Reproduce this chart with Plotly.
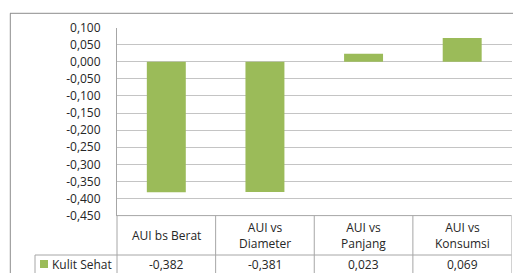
import plotly.graph_objects as go

categories = ["AUI bs Berat", "AUI vs<br>Diameter", "AUI vs<br>Panjang", "AUI vs<br>Konsumsi"]
series_name = "Kulit Sehat"
values = [-0.382, -0.381, 0.023, 0.069]
value_labels = ["-0,382", "-0,381", "0,023", "0,069"]
y_ticks = [0.1, 0.05, 0.0, -0.05, -0.1, -0.15, -0.2, -0.25, -0.3, -0.35, -0.4, -0.45]
y_tick_text = ["0,100", "0,050", "0,000", "-0,050", "-0,100", "-0,150", "-0,200",
               "-0,250", "-0,300", "-0,350", "-0,400", "-0,450"]

W, H = 513, 273
def py(p):
    return 1 - p / H
def px(p):
    return p / W

GRID = "#c4c4c4"
LINE = "#a6a6a6"
TXT = "#262626"
FONT = "Open Sans"
FS = 12

x = list(range(len(values)))
fig = go.Figure()
fig.add_trace(go.Bar(x=x, y=values, marker=dict(color="#9BBB59", line=dict(width=0)),
                     width=0.395, showlegend=False, hoverinfo="skip"))

fig.update_layout(
    width=W, height=H, margin=dict(l=0, r=0, t=0, b=0, autoexpand=False),
    paper_bgcolor="white", plot_bgcolor="white",
    font=dict(family=FONT, size=FS, color=TXT),
    xaxis=dict(domain=[px(117), px(511.5)], range=[-0.5, 3.5], showticklabels=False,
               showgrid=False, zeroline=False, fixedrange=True, automargin=False),
    yaxis=dict(domain=[py(215.6), py(27.5)], range=[-0.45, 0.1], tickvals=y_ticks,
               ticktext=y_tick_text, automargin=False,
               showgrid=True, gridcolor=GRID, gridwidth=1,
               zeroline=True, zerolinecolor=GRID, zerolinewidth=1,
               showline=True, linecolor=LINE, linewidth=1, ticks="",
               tickfont=dict(family=FONT, size=FS, color=TXT), ticklabelstandoff=13),
)

shapes = []
shapes.append(dict(type="line", xref="paper", yref="paper", x0=px(10), x1=1, y0=py(13.3), y1=py(13.3),
                   line=dict(color="#8c8c8c", width=1)))
shapes.append(dict(type="line", xref="paper", yref="paper", x0=px(10.3), x1=px(10.3), y0=py(13.3), y1=0,
                   line=dict(color="#8c8c8c", width=1)))
shapes.append(dict(type="line", xref="paper", yref="paper", x0=px(117), x1=px(117), y0=0, y1=py(215.6),
                   line=dict(color=LINE, width=1)))
for i in range(len(values)):
    shapes.append(dict(type="line", xref="x", yref="paper", x0=i + 0.5, x1=i + 0.5, y0=0, y1=py(215.6),
                       line=dict(color=LINE, width=1)))
shapes.append(dict(type="line", xref="paper", yref="paper", x0=px(35), x1=px(511.5), y0=py(255), y1=py(255),
                   line=dict(color=LINE, width=1)))
shapes.append(dict(type="line", xref="paper", yref="paper", x0=px(35), x1=px(35), y0=0, y1=py(255),
                   line=dict(color=LINE, width=1)))
shapes.append(dict(type="line", xref="paper", yref="paper", x0=px(117), x1=px(511.5), y0=py(215.6), y1=py(215.6),
                   line=dict(color=LINE, width=1)))
shapes.append(dict(type="rect", xref="paper", yref="paper", x0=px(40), x1=px(48), y0=py(268), y1=py(260),
                   fillcolor="#9BBB59", line=dict(width=0)))
fig.update_layout(shapes=shapes)

ann = []
for i, c in enumerate(categories):
    ann.append(dict(x=i, y=py(235.5), xref="x", yref="paper", text=c, showarrow=False,
                    font=dict(family=FONT, size=FS, color=TXT), xanchor="center", yanchor="middle"))
    ann.append(dict(x=i, y=py(264), xref="x", yref="paper", text=value_labels[i], showarrow=False,
                    font=dict(family=FONT, size=FS, color=TXT), xanchor="center", yanchor="middle"))
ann.append(dict(x=px(50), y=py(264), xref="paper", yref="paper", text=series_name, showarrow=False,
                font=dict(family=FONT, size=FS, color=TXT), xanchor="left", yanchor="middle"))
fig.update_layout(annotations=ann)

fig.write_html("out.html", config={"responsive": False, "displayModeBar": False},
               post_script="document.body.style.margin='0';document.body.style.overflow='hidden';")
